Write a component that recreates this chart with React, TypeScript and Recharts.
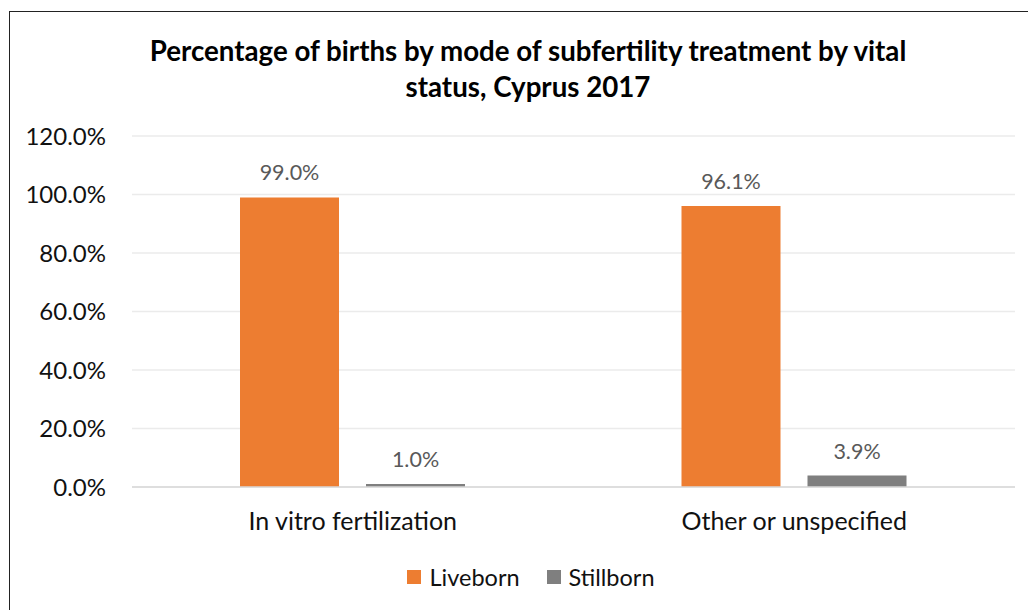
import React from 'react';
import { BarChart, Bar, XAxis, YAxis, CartesianGrid, LabelList, Legend } from 'recharts';

const categories = ['In vitro fertilization', 'Other or unspecified'];
const liveborn = [99.0, 96.1];
const stillborn = [1.0, 3.9];
const yTicks = [0, 20, 40, 60, 80, 100, 120];
const titleLines = ['Percentage of births by mode of subfertility treatment by vital', 'status, Cyprus 2017'];
const seriesNames = ['Liveborn', 'Stillborn'];
const seriesColors = ['#ED7D31', '#7F7F7F'];

const data = categories.map((c, i) => ({ name: c, Liveborn: liveborn[i], Stillborn: stillborn[i] }));

const FONT = 'Lato, "Open Sans", sans-serif';
const pct = (v: number) => `${Number(v).toFixed(1)}%`;

const LegendContent = () => (
  <div style={{ width: 1028, boxSizing: 'border-box', paddingLeft: 34, height: 30, display: 'flex', justifyContent: 'center', alignItems: 'center', fontFamily: FONT, fontSize: 23.5, color: '#111' }}>
    {seriesNames.map((n, i) => (
      <div key={n} style={{ display: 'flex', alignItems: 'center', marginRight: i === 0 ? 27 : 0 }}>
        <div style={{ width: 14, height: 14, background: seriesColors[i], marginRight: 8 }} />
        <span>{n}</span>
      </div>
    ))}
  </div>
);

export default function App() {
  return (
    <div style={{ position: 'absolute', left: 0, top: 0, width: 1028, height: 610, background: '#fff', overflow: 'hidden', fontFamily: FONT }}>
      <div style={{ position: 'absolute', left: 9, top: 11, width: 1100, height: 700, borderLeft: '1.5px solid #222', borderTop: '1.5px solid #222' }} />
      <div style={{ position: 'absolute', left: 0, top: 33, width: 1056, textAlign: 'center', fontWeight: 700, fontSize: 27.7, lineHeight: '36px', color: '#000' }}>
        {titleLines.map((l) => (
          <div key={l}>{l}</div>
        ))}
      </div>
      <div style={{ position: 'absolute', left: 0, top: 0 }}>
        <BarChart width={1028} height={610} data={data} margin={{ top: 136, right: 13, left: 0, bottom: 18 }} barSize={99} barGap={27}>
          <CartesianGrid vertical={false} stroke="#ebebeb" strokeWidth={1.5} />
          <XAxis
            dataKey="name"
            tickLine={false}
            axisLine={{ stroke: '#d9d9d9', strokeWidth: 1.5 }}
            tickSize={0}
            tickMargin={25}
            height={75}
            tick={{ fill: '#111', fontSize: 25, fontFamily: FONT }}
          />
          <YAxis
            width={132}
            domain={[0, 120]}
            ticks={yTicks}
            tickFormatter={pct}
            axisLine={false}
            tickLine={false}
            tickSize={0}
            tickMargin={26}
            tick={{ fill: '#111', fontSize: 24, fontFamily: FONT }}
            interval={0}
          />
          <Legend verticalAlign="bottom" align="center" wrapperStyle={{ left: 0, width: 1028 }} content={<LegendContent />} />
          <Bar dataKey="Liveborn" fill={seriesColors[0]} isAnimationActive={false}>
            <LabelList dataKey="Liveborn" position="top" offset={17} formatter={pct} style={{ fill: '#595959', fontSize: 21.5, fontFamily: FONT }} />
          </Bar>
          <Bar dataKey="Stillborn" fill={seriesColors[1]} isAnimationActive={false}>
            <LabelList dataKey="Stillborn" position="top" offset={17} formatter={pct} style={{ fill: '#595959', fontSize: 21.5, fontFamily: FONT }} />
          </Bar>
        </BarChart>
      </div>
    </div>
  );
}
